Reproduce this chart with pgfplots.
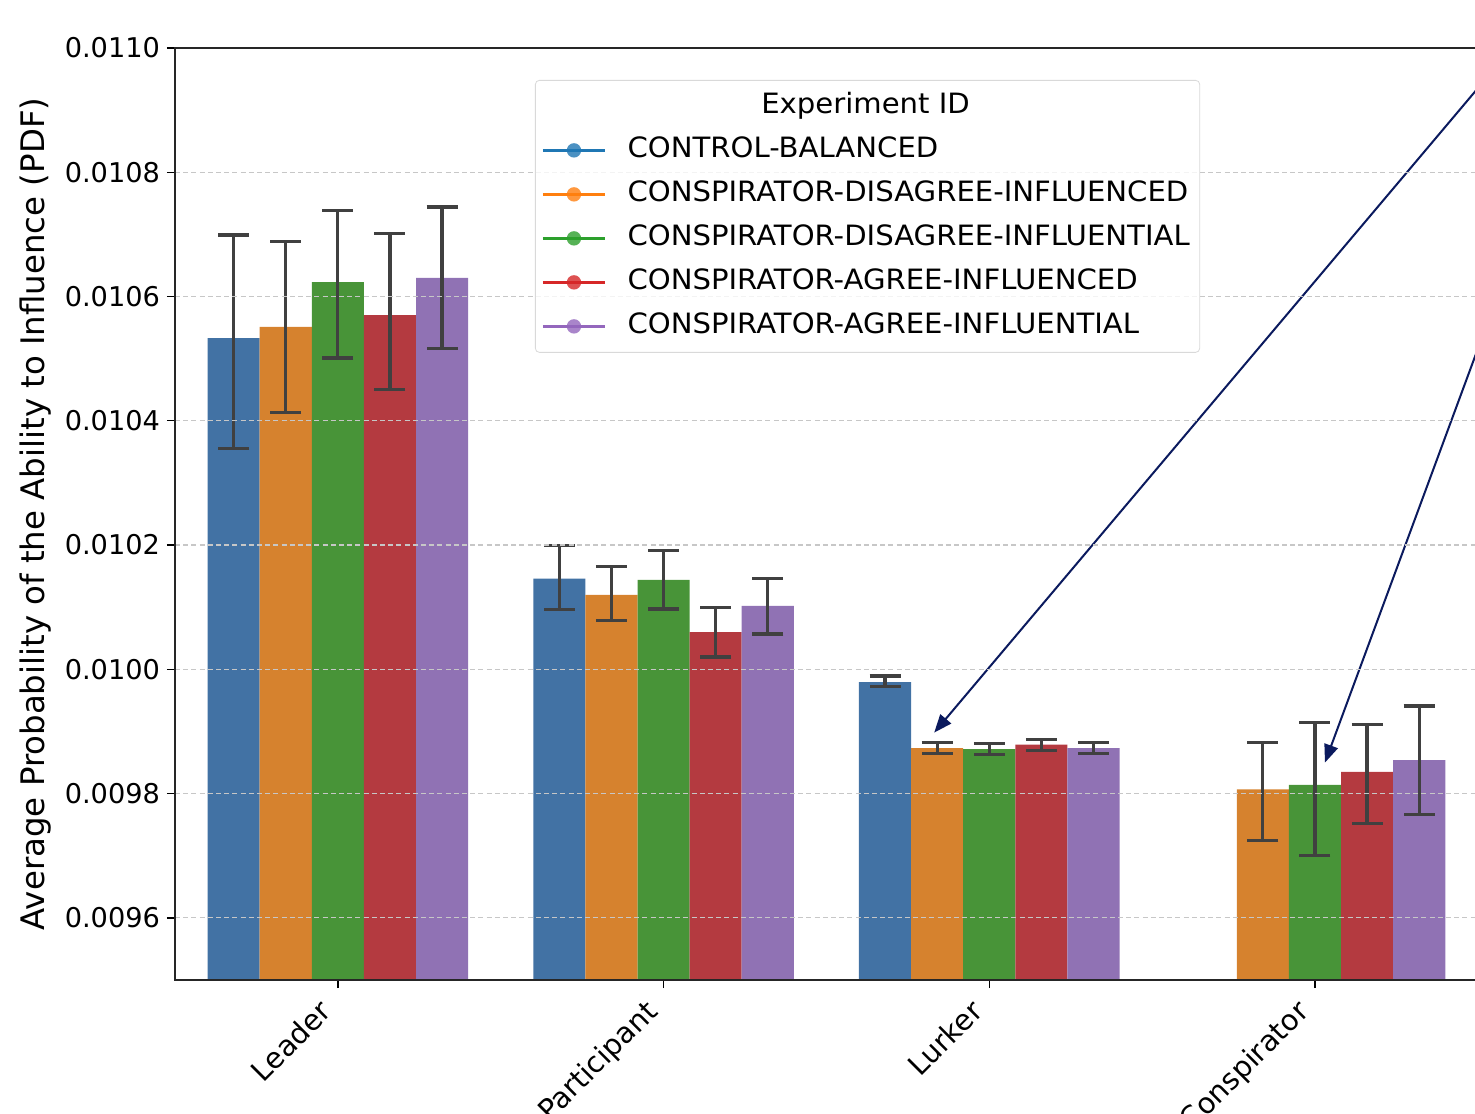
\documentclass[border=0pt]{standalone}
\usepackage{fontspec}
\setmainfont{DejaVu Sans}
\newfontfamily\legfont[FakeStretch=1.04]{DejaVu Sans}
\usepackage{pgfplots}
\pgfplotsset{compat=1.18}
\usetikzlibrary{arrows.meta}
\definecolor{cblue}{HTML}{4272A4}
\definecolor{corange}{HTML}{D6822E}
\definecolor{cgreen}{HTML}{489438}
\definecolor{cred}{HTML}{B43A40}
\definecolor{cpurple}{HTML}{9072B4}
\definecolor{lblue}{HTML}{1F77B4}
\definecolor{lorange}{HTML}{FF7F0E}
\definecolor{lgreen}{HTML}{2CA02C}
\definecolor{lred}{HTML}{D62728}
\definecolor{lpurple}{HTML}{9467BD}
\definecolor{arrowc}{HTML}{0B1A5E}
\newcommand{\fs}{\fontsize{13.6pt}{16pt}\selectfont}
\newcommand{\fx}{\fontsize{14.4pt}{17pt}\selectfont}
\newcommand{\fl}{\legfont\fontsize{14pt}{17pt}\selectfont}
\newcommand{\fy}{\fontsize{16.2pt}{19pt}\selectfont}
\newcommand{\limg}[1]{\draw[#1, line width=1.6pt] (0pt,0pt) -- (31pt,0pt); \fill[#1] (15.5pt,0pt) circle (3.6pt);}
\begin{document}
\begin{tikzpicture}
\useasboundingbox (0,0) rectangle (737.5pt,556.5pt);
\clip (0,0) rectangle (737.5pt,556.5pt);
\begin{axis}[
  at={(87.5pt,66.5pt)}, anchor=south west,
  scale only axis, width=651.4pt, height=466pt,
  xmin=-0.5, xmax=3.5, ymin=0.0095, ymax=0.0110,
  ybar, bar shift=0pt, bar width=0.16,
  axis on top,
  axis line style={black!85, line width=0.7pt},
  xtick={0,1,2,3}, xticklabels={Leader,Participant,Lurker,Conspirator},
  ytick={0.0096,0.0098,0.0100,0.0102,0.0104,0.0106,0.0108,0.0110},
  scaled y ticks=false,
  yticklabel style={/pgf/number format/fixed, /pgf/number format/fixed zerofill, /pgf/number format/precision=4, /pgf/number format/assume math mode=true, font=\fs},
  xticklabel style={xshift=-10pt, rotate=45, anchor=north east, font=\fx},
  xtick pos=bottom, ytick pos=left,
  tick align=outside, major tick length=4pt,
  tick style={black, line width=0.7pt},
  ymajorgrids,
  grid style={dash pattern=on 2.5pt off 1.6pt, line width=0.6pt, black!22},
  ylabel={Average Probability of the Ability to Influence (PDF)},
  ylabel style={font=\fy},
  error bars/y dir=both, error bars/y explicit,
  error bars/error bar style={line width=1.6pt, black!75},
  error bars/error mark options={line width=1.6pt, black!75, mark size=7.75pt, rotate=90},
  legend style={at={(rel axis cs:0.2763,0.9657)}, anchor=north west,
    draw=black!15, rounded corners=2pt, fill=white, fill opacity=0.8, text opacity=1,
    font=\fl, inner xsep=3pt, inner ysep=4.5pt, row sep=5pt, column sep=8.5pt,
    nodes={inner xsep=2pt, inner ysep=2pt, text height=10pt, text depth=3pt}},
  legend cell align=left,
]
\addlegendimage{empty legend}
\addlegendentry{\hspace*{119pt}\makebox[0pt]{Experiment ID}}

\addplot[fill=cblue, draw=none, legend image code/.code={\limg{lblue}}] coordinates {
 (-0.32,0.010533) += (0,0.000166) -= (0,0.000177)
 (0.68,0.010146) += (0,0.000053) -= (0,0.000050)
 (1.68,0.0099793) += (0,0.0000101) -= (0,0.0000071)
};
\addlegendentry{CONTROL-BALANCED}

\addplot[fill=corange, draw=none, legend image code/.code={\limg{lorange}}] coordinates {
 (-0.16,0.010551) += (0,0.000137) -= (0,0.000138)
 (0.84,0.010120) += (0,0.000045) -= (0,0.000042)
 (1.84,0.0098731) += (0,0.000009) -= (0,0.0000092)
 (2.84,0.009807) += (0,0.000075) -= (0,0.000083)
};
\addlegendentry{CONSPIRATOR-DISAGREE-INFLUENCED}

\addplot[fill=cgreen, draw=none, legend image code/.code={\limg{lgreen}}] coordinates {
 (0,0.010623) += (0,0.000115) -= (0,0.000122)
 (1,0.010144) += (0,0.000047) -= (0,0.000047)
 (2,0.0098715) += (0,0.0000085) -= (0,0.0000090)
 (3,0.009814) += (0,0.000101) -= (0,0.000113)
};
\addlegendentry{CONSPIRATOR-DISAGREE-INFLUENTIAL}

\addplot[fill=cred, draw=none, legend image code/.code={\limg{lred}}] coordinates {
 (0.16,0.010570) += (0,0.000131) -= (0,0.000120)
 (1.16,0.010060) += (0,0.000040) -= (0,0.000040)
 (2.16,0.0098789) += (0,0.0000087) -= (0,0.0000097)
 (3.16,0.009835) += (0,0.000076) -= (0,0.000083)
};
\addlegendentry{CONSPIRATOR-AGREE-INFLUENCED}

\addplot[fill=cpurple, draw=none, legend image code/.code={\limg{lpurple}}] coordinates {
 (0.32,0.010630) += (0,0.000114) -= (0,0.000114)
 (1.32,0.010102) += (0,0.000044) -= (0,0.000045)
 (2.32,0.0098731) += (0,0.000009) -= (0,0.000009)
 (3.32,0.009854) += (0,0.000087) -= (0,0.000088)
};
\addlegendentry{CONSPIRATOR-AGREE-INFLUENTIAL}

\draw[arrowc, line width=1pt, -{Triangle[length=9pt,width=7pt]}] (axis cs:3.5373,0.0109583) -- (axis cs:1.8310,0.0098982);
\draw[arrowc, line width=1pt, -{Triangle[length=9pt,width=7pt]}] (axis cs:3.5373,0.0105686) -- (axis cs:3.0307,0.0098499);
\end{axis}
\end{tikzpicture}
\end{document}
